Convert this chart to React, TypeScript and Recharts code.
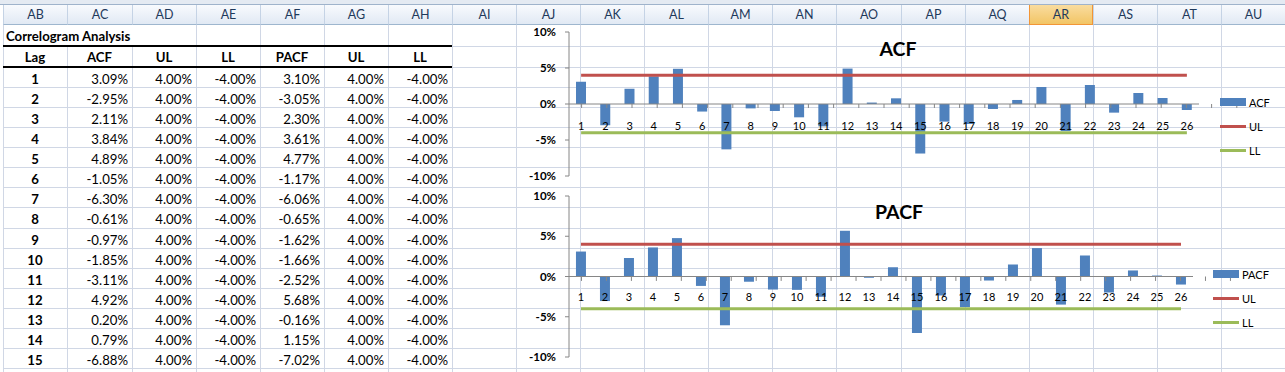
import React from 'react';
import { ComposedChart, Bar, Line, XAxis, YAxis, ReferenceLine, LabelList, Legend } from 'recharts';

// ---------- data ----------
const LAGS = [1, 2, 3, 4, 5, 6, 7, 8, 9, 10, 11, 12, 13, 14, 15, 16, 17, 18, 19, 20, 21, 22, 23, 24, 25, 26];
const ACF = [3.09, -2.95, 2.11, 3.84, 4.89, -1.05, -6.3, -0.61, -0.97, -1.85, -3.11, 4.92, 0.2, 0.79, -6.88,
  -2.45, -2.78, -0.69, 0.56, 2.36, -3.75, 2.64, -1.2, 1.53, 0.83, -0.83];
const PACF = [3.1, -3.05, 2.3, 3.61, 4.77, -1.17, -6.06, -0.65, -1.62, -1.66, -2.52, 5.68, -0.16, 1.15, -7.02,
  -2.36, -3.8, -0.5, 1.49, 3.53, -3.49, 2.61, -1.99, 0.75, 0.12, -1.0];
const UL = [4, 4, 4, 4, 4, 4, 4, 4, 4, 4, 4, 4, 4, 4, 4, 4, 4, 4, 4, 4, 4, 4, 4, 4, 4, 4];
const LL = [-4, -4, -4, -4, -4, -4, -4, -4, -4, -4, -4, -4, -4, -4, -4, -4, -4, -4, -4, -4, -4, -4, -4, -4, -4, -4];
const Y_TICKS = [-10, -5, 0, 5, 10];
const BOUNDARIES = [0.5, 1.5, 2.5, 3.5, 4.5, 5.5, 6.5, 7.5, 8.5, 9.5, 10.5, 11.5, 12.5, 13.5, 14.5, 15.5,
  16.5, 17.5, 18.5, 19.5, 20.5, 21.5, 22.5, 23.5, 24.5, 25.5, 26.5];
const COLUMNS = ['AB', 'AC', 'AD', 'AE', 'AF', 'AG', 'AH', 'AI', 'AJ', 'AK', 'AL', 'AM', 'AN', 'AO', 'AP', 'AQ', 'AR', 'AS', 'AT', 'AU'];
const SELECTED_COLUMN = 'AR';
const TABLE_TITLE = 'Correlogram Analysis';
const TABLE_HEADERS = ['Lag', 'ACF', 'UL', 'LL', 'PACF', 'UL', 'LL'];
const TABLE_ROWS = 15;

// ---------- layout ----------
const FONT = 'Lato, "Open Sans", sans-serif';
const GRID = '#d0d7e5';
const COL_X0 = 3.4;
const COL_W = 64.08;
const colX = (k: number) => Math.round(COL_X0 + COL_W * k);
const ROW_TOP = 67;
const ROW_H = 20.07;
const rowY = (k: number) => Math.round(ROW_TOP + ROW_H * k);
const TICK_LEN = 0.55;
const CELL_FONT = 13.2;

const fmt = (v: number) => `${v.toFixed(2)}%`;

function LegendContent(props: any) {
  const order: string[] = props.order || [];
  const items = (props.payload || [])
    .filter((p: any) => p.type !== 'none')
    .slice()
    .sort((a: any, b: any) => order.indexOf(a.value) - order.indexOf(b.value));
  return (
    <div style={{ fontFamily: FONT, fontSize: 11, color: '#000' }}>
      {items.map((p: any) => (
        <div key={p.value} style={{ display: 'flex', alignItems: 'center', height: 24 }}>
          <div style={{ width: 26, height: p.type === 'rect' ? 8 : 3, background: p.color, marginRight: 3 }} />
          <span>{p.value}</span>
        </div>
      ))}
    </div>
  );
}

type ChartProps = {
  values: number[];
  name: string;
  top: number;
  height: number;
  margin: { top: number; right: number; bottom: number; left: number };
  labelOffset: number;
  legendLeft: number;
  legendTop: number;
};

function Correlogram({ values, name, top, height, margin, labelOffset, legendLeft, legendTop }: ChartProps) {
  const data = LAGS.map((lag, i) => ({ lag, v: values[i], ul: UL[i], ll: LL[i], zero: 0 }));
  return (
    <div style={{ position: 'absolute', left: 500, top }}>
      <ComposedChart width={785} height={height} data={data} margin={margin} barCategoryGap="29%">
        <XAxis xAxisId="cat" dataKey="lag" hide />
        <XAxis xAxisId="num" type="number" domain={[0.5, 26.5]} hide allowDataOverflow />
        <YAxis
          domain={[-10, 10]}
          ticks={Y_TICKS}
          interval={0}
          width={40}
          tickFormatter={(v: number) => `${v}%`}
          tick={{ fontSize: 11.5, fill: '#000', fontWeight: 700, fontFamily: FONT }}
          axisLine={{ stroke: '#868686' }}
          tickLine={{ stroke: '#868686' }}
          tickSize={4}
          tickMargin={9}
          allowDataOverflow
        />
        <Bar xAxisId="cat" dataKey="v" name={name} fill="#4f81bd" isAnimationActive={false} />
        <Line xAxisId="cat" dataKey="ul" name="UL" stroke="#c0504d" strokeWidth={3} dot={false} activeDot={false} isAnimationActive={false} />
        <Line xAxisId="cat" dataKey="ll" name="LL" stroke="#9bbb59" strokeWidth={3} dot={false} activeDot={false} isAnimationActive={false} />
        <ReferenceLine xAxisId="cat" y={0} stroke="#868686" strokeWidth={1} />
        {BOUNDARIES.map((b) => (
          <ReferenceLine
            key={b}
            xAxisId="num"
            ifOverflow="visible"
            segment={[{ x: b, y: 0 }, { x: b, y: -TICK_LEN }]}
            stroke="#868686"
            strokeWidth={1}
          />
        ))}
        <Line xAxisId="cat" dataKey="zero" stroke="none" dot={false} activeDot={false} legendType="none" isAnimationActive={false}>
          <LabelList dataKey="lag" position="bottom" offset={labelOffset} fontSize={11} fill="#000" fontFamily={FONT} />
        </Line>
        <Legend
          layout="vertical"
          align="center"
          verticalAlign="middle"
          content={<LegendContent order={[name, 'UL', 'LL']} />}
          wrapperStyle={{ left: legendLeft, top: legendTop, width: 60 }}
        />
      </ComposedChart>
    </div>
  );
}

export default function App() {
  const tableRight = colX(7);
  return (
    <div style={{ position: 'absolute', left: 0, top: 0, width: 1285, height: 372, overflow: 'hidden', background: '#fff', fontFamily: FONT, color: '#000' }}>
      {/* top strip */}
      <div style={{ position: 'absolute', left: 0, top: 0, width: 1285, height: 4, background: '#e4eaf2' }} />
      <div style={{ position: 'absolute', left: 0, top: 4, width: 1285, height: 1, background: '#9fb3cb' }} />
      {/* column headers */}
      {COLUMNS.map((c, k) => {
        const sel = c === SELECTED_COLUMN;
        return (
          <div
            key={c}
            style={{
              position: 'absolute',
              left: colX(k),
              top: 5,
              width: colX(k + 1) - colX(k),
              height: 20,
              boxSizing: 'border-box',
              background: sel ? 'linear-gradient(#f9dc9f, #f2c565)' : 'linear-gradient(#f8fafd, #e1e9f4)',
              borderLeft: `1px solid ${sel ? '#f29536' : '#c5d3e5'}`,
              borderRight: sel ? '1px solid #f29536' : 'none',
              borderBottom: `1px solid ${sel ? '#f29536' : '#9eb6ce'}`,
              textAlign: 'center',
              lineHeight: '20px',
              fontSize: 12.5,
              color: '#1e395b',
            }}
          >
            {c}
          </div>
        );
      })}
      {/* horizontal gridlines */}
      {[46, ...Array.from({ length: 16 }, (_, i) => rowY(i))].map((y) => (
        <div key={`h${y}`} style={{ position: 'absolute', left: colX(0), top: y, width: 1285, height: 1, background: GRID }} />
      ))}
      {/* vertical gridlines */}
      {Array.from({ length: 21 }, (_, k) => colX(k)).map((x, k) => (
        <div
          key={`v${k}`}
          style={{
            position: 'absolute',
            left: x,
            top: k === 1 || k === 2 ? 46 : 25,
            width: 1,
            height: 372,
            background: GRID,
          }}
        />
      ))}
      {/* table title */}
      <div style={{ position: 'absolute', left: 6, top: 26, height: 20, lineHeight: '20px', fontSize: CELL_FONT, fontWeight: 700, background: 'transparent' }}>
        {TABLE_TITLE}
      </div>
      {/* thick borders */}
      <div style={{ position: 'absolute', left: colX(0), top: 45, width: tableRight - colX(0), height: 2, background: '#000' }} />
      <div style={{ position: 'absolute', left: colX(0), top: 66, width: tableRight - colX(0), height: 2, background: '#000' }} />
      {/* table header */}
      {TABLE_HEADERS.map((h, k) => (
        <div
          key={`th${k}`}
          style={{ position: 'absolute', left: colX(k), top: 48, width: colX(k + 1) - colX(k), height: 18, lineHeight: '18px', textAlign: 'center', fontSize: CELL_FONT, fontWeight: 700 }}
        >
          {h}
        </div>
      ))}
      {/* table rows */}
      {LAGS.slice(0, TABLE_ROWS).map((lag, i) => {
        const cells = [fmt(ACF[i]), fmt(UL[i]), fmt(LL[i]), fmt(PACF[i]), fmt(UL[i]), fmt(LL[i])];
        const y = rowY(i) + 2;
        return (
          <React.Fragment key={`r${lag}`}>
            <div style={{ position: 'absolute', left: colX(0), top: y, width: colX(1) - colX(0), height: 20, lineHeight: '20px', textAlign: 'center', fontSize: CELL_FONT, fontWeight: 700 }}>
              {lag}
            </div>
            {cells.map((c, j) => (
              <div
                key={j}
                style={{
                  position: 'absolute',
                  left: colX(j + 1),
                  top: y,
                  width: colX(j + 2) - colX(j + 1) - 4,
                  height: 20,
                  lineHeight: '20px',
                  textAlign: 'right',
                  fontSize: CELL_FONT,
                }}
              >
                {c}
              </div>
            ))}
          </React.Fragment>
        );
      })}
      {/* charts */}
      <Correlogram
        values={ACF}
        name="ACF"
        top={24}
        height={165}
        margin={{ top: 8, right: 86, bottom: 13, left: 29 }}
        labelOffset={18}
        legendLeft={720}
        legendTop={66}
      />
      <Correlogram
        values={PACF}
        name="PACF"
        top={186}
        height={186}
        margin={{ top: 10, right: 92, bottom: 15, left: 29 }}
        labelOffset={17}
        legendLeft={713}
        legendTop={76}
      />
      {/* titles */}
      <div style={{ position: 'absolute', left: 848, top: 39, width: 100, textAlign: 'center', fontSize: 19.5, lineHeight: '20px', fontWeight: 700 }}>ACF</div>
      <div style={{ position: 'absolute', left: 849, top: 202, width: 100, textAlign: 'center', fontSize: 19.5, lineHeight: '20px', fontWeight: 700 }}>PACF</div>
    </div>
  );
}
